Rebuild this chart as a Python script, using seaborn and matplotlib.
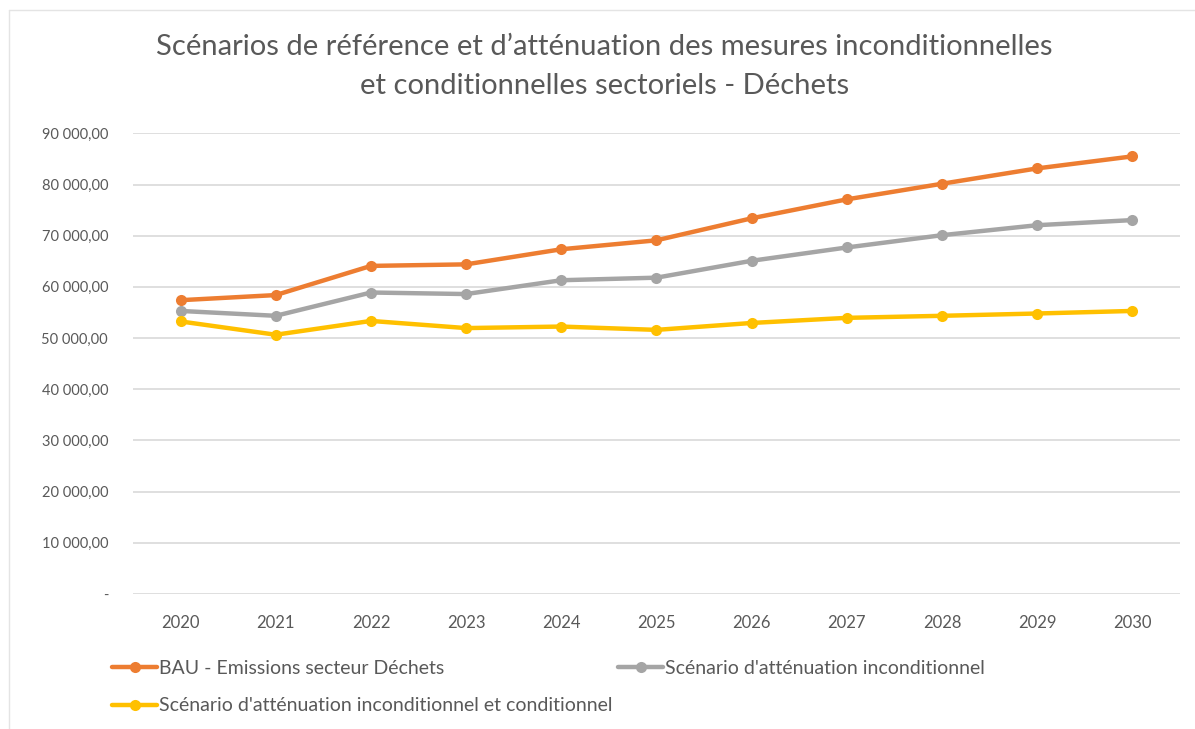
import matplotlib
matplotlib.use("Agg")
import matplotlib.pyplot as plt
from matplotlib.ticker import FuncFormatter, MultipleLocator
from matplotlib.lines import Line2D
import seaborn as sns
import pandas as pd

# Données
annees = ['2020', '2021', '2022', '2023', '2024', '2025', '2026', '2027', '2028', '2029', '2030']
bau = [57400, 58400, 64100, 64400, 67350, 69100, 73400, 77100, 80150, 83150, 85500]
inconditionnel = [55300, 54350, 58900, 58600, 61300, 61800, 65100, 67700, 70100, 72050, 73050]
conditionnel = [53250, 50650, 53350, 51950, 52250, 51600, 52950, 53950, 54350, 54800, 55300]

noms = ['BAU - Emissions secteur Déchets',
        "Scénario d'atténuation inconditionnel",
        "Scénario d'atténuation inconditionnel et conditionnel"]
couleurs = ['#ED7D31', '#A5A5A5', '#FFC000']

# Tableau long pour seaborn
df = pd.DataFrame({
    'annee': annees * 3,
    'valeur': bau + inconditionnel + conditionnel,
    'serie': [noms[0]] * len(annees) + [noms[1]] * len(annees) + [noms[2]] * len(annees),
})

sns.set_style('white')
plt.rcParams['font.family'] = ['Lato', 'DejaVu Sans']
gris_texte = '#595959'

fig = plt.figure(figsize=(11.95, 7.29), dpi=100)
ax = fig.add_axes([0.1113, 0.1852, 0.8761, 0.6319])

sns.lineplot(data=df, x='annee', y='valeur', hue='serie', hue_order=noms,
             palette=couleurs, marker='o', markersize=8, markeredgewidth=0,
             linewidth=3.2, ax=ax, legend=False, zorder=3)

# Axe des ordonnées
ax.set_ylim(0, 90000)
ax.set_xlim(-0.5, len(annees) - 0.5)
ax.yaxis.set_major_locator(MultipleLocator(10000))

def format_fr(v, pos):
    if v == 0:
        return '-'
    return f'{v:,.2f}'.replace(',', ' ').replace('.', ',')

ax.yaxis.set_major_formatter(FuncFormatter(format_fr))
ax.grid(axis='y', color='#D9D9D9', linewidth=1.2)
ax.grid(axis='x', visible=False)
for s in ax.spines.values():
    s.set_visible(False)
ax.tick_params(axis='y', length=0, pad=18, labelsize=10.5, labelcolor=gris_texte)
ax.tick_params(axis='x', length=0, pad=15, labelsize=12, labelcolor=gris_texte)
ax.set_xlabel('')
ax.set_ylabel('')

# Titre
fig.text(0.506, 0.936, "Scénarios de référence et d’atténuation des mesures inconditionnelles",
         ha='center', va='center', fontsize=21, color=gris_texte)
fig.text(0.506, 0.882, "et conditionnelles sectoriels - Déchets",
         ha='center', va='center', fontsize=21, color=gris_texte)

# Légende (ordre colonne par colonne)
poignees = [Line2D([0], [0], color=c, lw=3.2, marker='o', markersize=8, markeredgewidth=0)
            for c in couleurs]
ordre = [0, 2, 1]
leg = fig.legend([poignees[i] for i in ordre], [noms[i] for i in ordre],
                 loc='upper left', bbox_to_anchor=(0.086, 0.108), ncol=2,
                 frameon=False, fontsize=14, handlelength=2.3, handletextpad=0.1,
                 columnspacing=0.3, labelspacing=1.05, borderpad=0)
for t in leg.get_texts():
    t.set_color(gris_texte)

# Cadre léger en haut et à gauche
fig.add_artist(Line2D([0.0075, 1.0], [0.986, 0.986], color='#E4E4E4', lw=1))
fig.add_artist(Line2D([0.0075, 0.0075], [0.0, 0.986], color='#E4E4E4', lw=1))

fig.savefig('out.png', dpi=100)
